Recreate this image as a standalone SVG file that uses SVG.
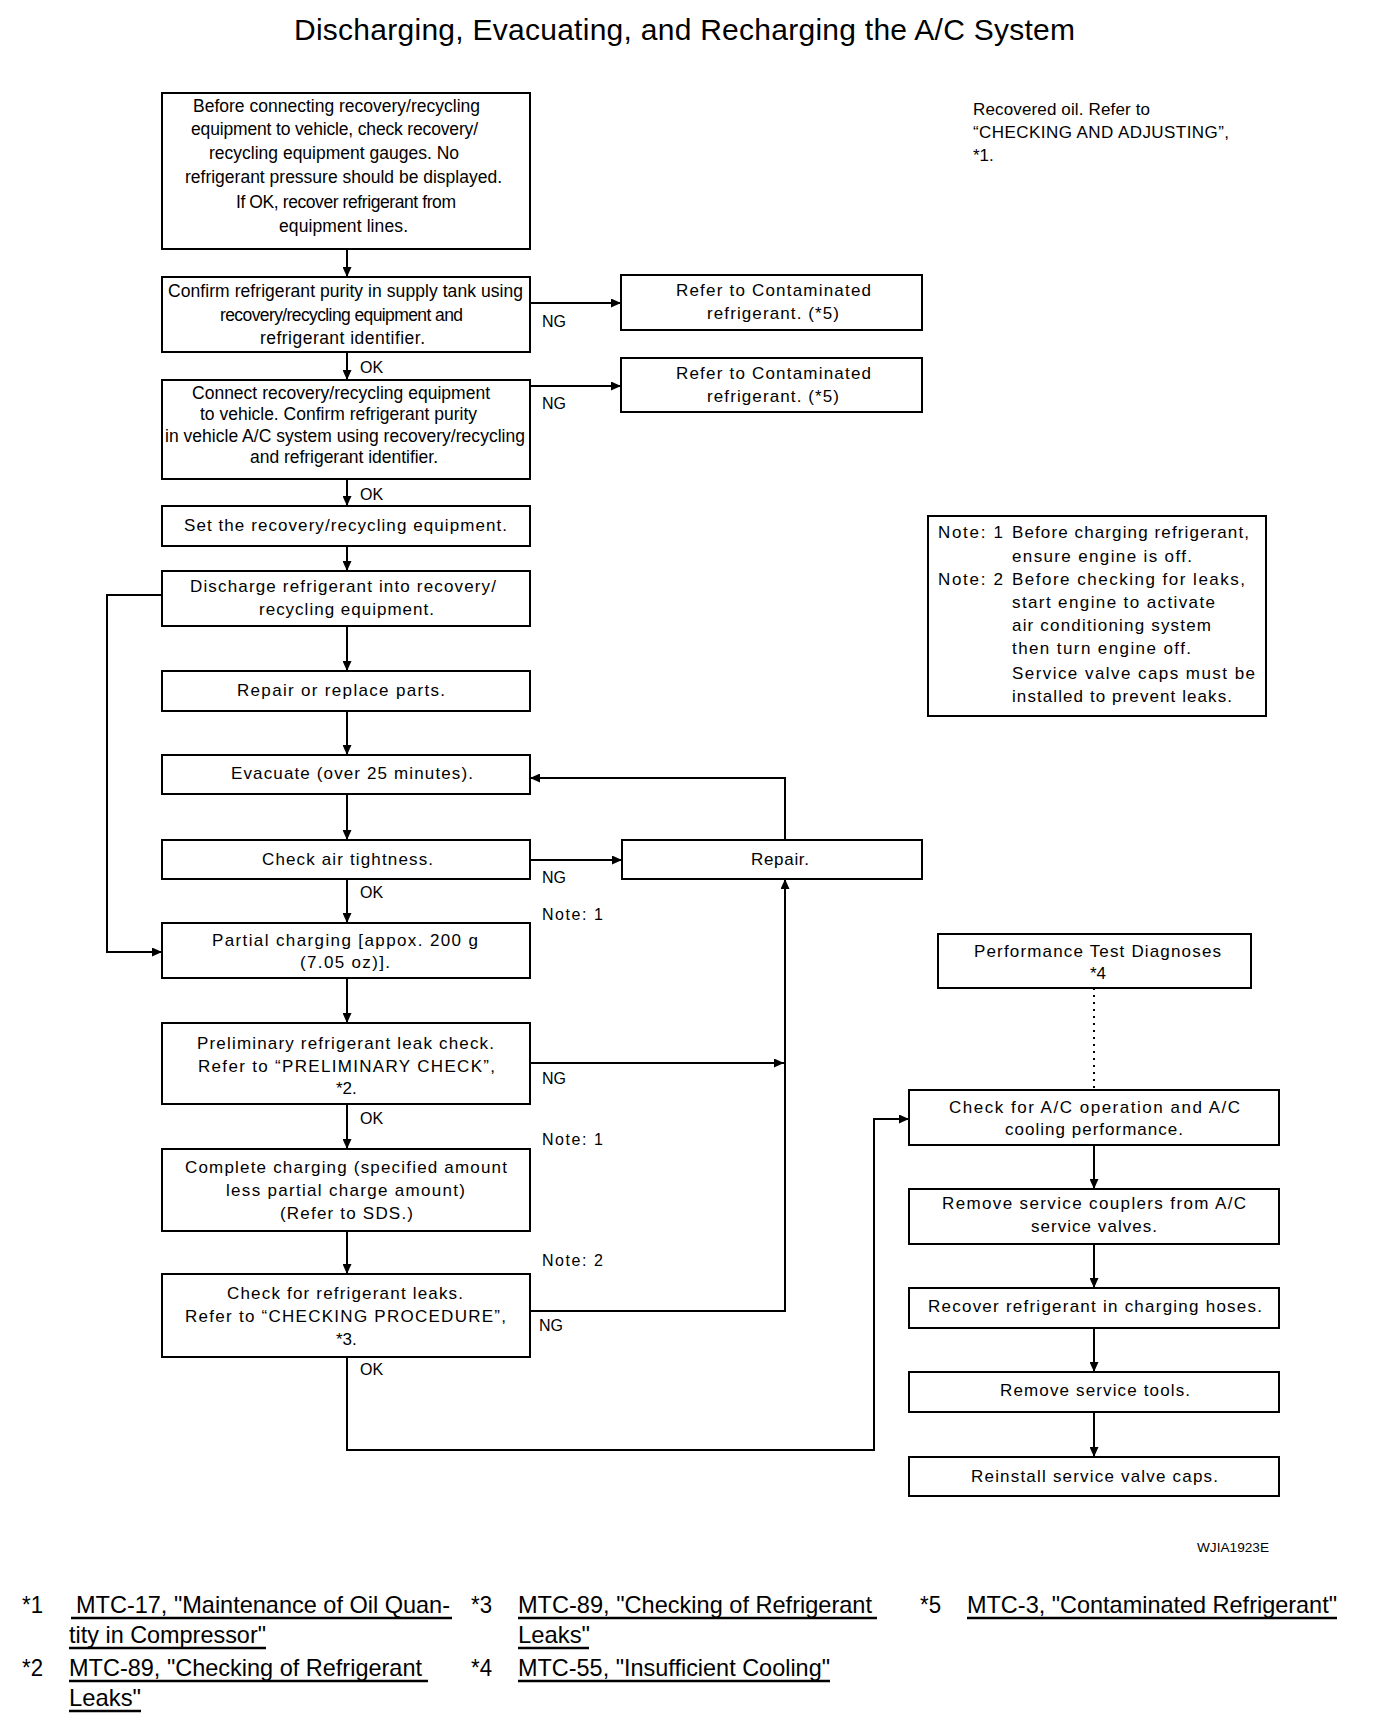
<svg xmlns="http://www.w3.org/2000/svg" width="1376" height="1726" viewBox="0 0 1376 1726">
<style>
.bx{fill:#fff;stroke:#000;stroke-width:2}
text{font-family:"Liberation Sans",Arial,Helvetica,sans-serif;fill:#000}
.d{font-size:17.5px}
.s{font-size:17px}
.l{font-size:16px}
.f{font-size:24px}
.c{fill:none;stroke:#000;stroke-width:2}
.u{stroke:#000;stroke-width:2.5}
</style>
<defs>
<marker id="ah" viewBox="0 0 10 9" refX="10" refY="4.5" markerWidth="10" markerHeight="9" markerUnits="userSpaceOnUse" orient="auto"><path d="M0,0 L10,4.5 L0,9 z" fill="#000"/></marker>
</defs>
<rect width="1376" height="1726" fill="#fff"/>
<text x="294" y="40" font-size="30" textLength="781" lengthAdjust="spacing">Discharging, Evacuating, and Recharging the A/C System</text>

<g id="connectors" class="c" marker-end="url(#ah)">
<path d="M347,249 V277"/>
<path d="M347,352 V380"/>
<path d="M530,303 H621"/>
<path d="M530,386 H621"/>
<path d="M347,479 V506"/>
<path d="M347,546 V571"/>
<path d="M347,626 V671"/>
<path d="M347,711 V755"/>
<path d="M347,794 V840"/>
<path d="M530,860 H622"/>
<path d="M785,840 V778 H530"/>
<path d="M347,879 V923"/>
<path d="M162,595 H107 V952 H162"/>
<path d="M347,978 V1023"/>
<path d="M530,1063 H784"/>
<path d="M347,1104 V1149"/>
<path d="M347,1231 V1274"/>
<path d="M530,1311 H785 V879"/>
<path d="M347,1357 V1450 H874 V1119 H909"/>
<path d="M1094,988 V1090" marker-end="none" stroke-dasharray="2,5"/>
<path d="M1094,1145 V1189"/>
<path d="M1094,1244 V1288"/>
<path d="M1094,1328 V1372"/>
<path d="M1094,1412 V1457"/>
</g>

<g id="labels" class="l">
<text x="360" y="373">OK</text>
<text x="360" y="500">OK</text>
<text x="360" y="898">OK</text>
<text x="360" y="1124">OK</text>
<text x="360" y="1375">OK</text>
<text x="542" y="327">NG</text>
<text x="542" y="409">NG</text>
<text x="542" y="883">NG</text>
<text x="542" y="1084">NG</text>
<text x="539" y="1331">NG</text>
<text x="542" y="920" textLength="61" lengthAdjust="spacing">Note: 1</text>
<text x="542" y="1145" textLength="61" lengthAdjust="spacing">Note: 1</text>
<text x="542" y="1266" textLength="61" lengthAdjust="spacing">Note: 2</text>
</g>

<g id="n1" class="d">
<rect class="bx" x="162" y="93" width="368" height="156"/>
<text x="193" y="112" textLength="287" lengthAdjust="spacing">Before connecting recovery/recycling</text>
<text x="191" y="135" textLength="287" lengthAdjust="spacing">equipment to vehicle, check recovery/</text>
<text x="209" y="159" textLength="250" lengthAdjust="spacing">recycling equipment gauges. No</text>
<text x="185" y="183" textLength="317" lengthAdjust="spacing">refrigerant pressure should be displayed.</text>
<text x="236" y="208" textLength="220" lengthAdjust="spacing">If OK, recover refrigerant from</text>
<text x="279" y="232" textLength="129" lengthAdjust="spacing">equipment lines.</text>
</g>
<g id="n2" class="d">
<rect class="bx" x="162" y="277" width="368" height="75"/>
<text x="168" y="297" textLength="355" lengthAdjust="spacing">Confirm refrigerant purity in supply tank using</text>
<text x="220" y="321" textLength="243" lengthAdjust="spacing">recovery/recycling equipment and</text>
<text x="260" y="344" textLength="165" lengthAdjust="spacing">refrigerant identifier.</text>
</g>
<g id="n3" class="d">
<rect class="bx" x="162" y="380" width="368" height="99"/>
<text x="192" y="399" textLength="298" lengthAdjust="spacing">Connect recovery/recycling equipment</text>
<text x="200" y="420" textLength="277" lengthAdjust="spacing">to vehicle. Confirm refrigerant purity</text>
<text x="165" y="442" textLength="360" lengthAdjust="spacing">in vehicle A/C system using recovery/recycling</text>
<text x="250" y="463" textLength="188" lengthAdjust="spacing">and refrigerant identifier.</text>
</g>
<g id="n4" class="s">
<rect class="bx" x="162" y="506" width="368" height="40"/>
<text x="184" y="531" textLength="323" lengthAdjust="spacing">Set the recovery/recycling equipment.</text>
</g>
<g id="n5" class="s">
<rect class="bx" x="162" y="571" width="368" height="55"/>
<text x="190" y="592" textLength="306" lengthAdjust="spacing">Discharge refrigerant into recovery/</text>
<text x="259" y="615" textLength="175" lengthAdjust="spacing">recycling equipment.</text>
</g>
<g id="n6" class="s">
<rect class="bx" x="162" y="671" width="368" height="40"/>
<text x="237" y="696" textLength="208" lengthAdjust="spacing">Repair or replace parts.</text>
</g>
<g id="n7" class="s">
<rect class="bx" x="162" y="755" width="368" height="39"/>
<text x="231" y="779" textLength="242" lengthAdjust="spacing">Evacuate (over 25 minutes).</text>
</g>
<g id="n8" class="s">
<rect class="bx" x="162" y="840" width="368" height="39"/>
<text x="262" y="865" textLength="171" lengthAdjust="spacing">Check air tightness.</text>
</g>
<g id="n9" class="s">
<rect class="bx" x="162" y="923" width="368" height="55"/>
<text x="212" y="946" textLength="266" lengthAdjust="spacing">Partial charging [appox. 200 g</text>
<text x="300" y="968" textLength="90" lengthAdjust="spacing">(7.05 oz)].</text>
</g>
<g id="n10" class="s">
<rect class="bx" x="162" y="1023" width="368" height="81"/>
<text x="197" y="1049" textLength="297" lengthAdjust="spacing">Preliminary refrigerant leak check.</text>
<text x="198" y="1072" textLength="297" lengthAdjust="spacing">Refer to “PRELIMINARY CHECK”,</text>
<text x="336" y="1094">*2.</text>
</g>
<g id="n11" class="s">
<rect class="bx" x="162" y="1149" width="368" height="82"/>
<text x="185" y="1173" textLength="322" lengthAdjust="spacing">Complete charging (specified amount</text>
<text x="226" y="1196" textLength="239" lengthAdjust="spacing">less partial charge amount)</text>
<text x="280" y="1219" textLength="133" lengthAdjust="spacing">(Refer to SDS.)</text>
</g>
<g id="n12" class="s">
<rect class="bx" x="162" y="1274" width="368" height="83"/>
<text x="227" y="1299" textLength="236" lengthAdjust="spacing">Check for refrigerant leaks.</text>
<text x="185" y="1322" textLength="321" lengthAdjust="spacing">Refer to “CHECKING PROCEDURE”,</text>
<text x="336" y="1345">*3.</text>
</g>
<g id="refer1" class="s">
<rect class="bx" x="621" y="275" width="301" height="55"/>
<text x="676" y="296" textLength="195" lengthAdjust="spacing">Refer to Contaminated</text>
<text x="707" y="319" textLength="132" lengthAdjust="spacing">refrigerant. (*5)</text>
</g>
<g id="refer2" class="s">
<rect class="bx" x="621" y="358" width="301" height="54"/>
<text x="676" y="379" textLength="195" lengthAdjust="spacing">Refer to Contaminated</text>
<text x="707" y="402" textLength="132" lengthAdjust="spacing">refrigerant. (*5)</text>
</g>
<g id="repair" class="s">
<rect class="bx" x="622" y="840" width="300" height="39"/>
<text x="751" y="865" textLength="58" lengthAdjust="spacing">Repair.</text>
</g>
<g id="perf" class="s">
<rect class="bx" x="938" y="934" width="313" height="54"/>
<text x="974" y="957" textLength="247" lengthAdjust="spacing">Performance Test Diagnoses</text>
<text x="1090" y="979">*4</text>
</g>
<g id="checkac" class="s">
<rect class="bx" x="909" y="1090" width="370" height="55"/>
<text x="949" y="1113" textLength="291" lengthAdjust="spacing">Check for A/C operation and A/C</text>
<text x="1005" y="1135" textLength="178" lengthAdjust="spacing">cooling performance.</text>
</g>
<g id="couplers" class="s">
<rect class="bx" x="909" y="1189" width="370" height="55"/>
<text x="942" y="1209" textLength="304" lengthAdjust="spacing">Remove service couplers from A/C</text>
<text x="1031" y="1232" textLength="126" lengthAdjust="spacing">service valves.</text>
</g>
<g id="recover" class="s">
<rect class="bx" x="909" y="1288" width="370" height="40"/>
<text x="928" y="1312" textLength="334" lengthAdjust="spacing">Recover refrigerant in charging hoses.</text>
</g>
<g id="tools" class="s">
<rect class="bx" x="909" y="1372" width="370" height="40"/>
<text x="1000" y="1396" textLength="190" lengthAdjust="spacing">Remove service tools.</text>
</g>
<g id="reinstall" class="s">
<rect class="bx" x="909" y="1457" width="370" height="39"/>
<text x="971" y="1482" textLength="247" lengthAdjust="spacing">Reinstall service valve caps.</text>
</g>
<g id="note" class="s">
<rect class="bx" x="928" y="516" width="338" height="200"/>
<text y="538"><tspan x="938" textLength="65" lengthAdjust="spacing">Note: 1</tspan><tspan x="1012" textLength="237" lengthAdjust="spacing">Before charging refrigerant,</tspan></text>
<text x="1012" y="562" textLength="180" lengthAdjust="spacing">ensure engine is off.</text>
<text y="585"><tspan x="938" textLength="65" lengthAdjust="spacing">Note: 2</tspan><tspan x="1012" textLength="233" lengthAdjust="spacing">Before checking for leaks,</tspan></text>
<text x="1012" y="608" textLength="203" lengthAdjust="spacing">start engine to activate</text>
<text x="1012" y="631" textLength="199" lengthAdjust="spacing">air conditioning system</text>
<text x="1012" y="654" textLength="179" lengthAdjust="spacing">then turn engine off.</text>
<text x="1012" y="679" textLength="243" lengthAdjust="spacing">Service valve caps must be</text>
<text x="1012" y="702" textLength="220" lengthAdjust="spacing">installed to prevent leaks.</text>
</g>
<g id="oilnote" class="s">
<text x="973" y="115" textLength="177" lengthAdjust="spacing">Recovered oil. Refer to</text>
<text x="973" y="138" textLength="256" lengthAdjust="spacing">“CHECKING AND ADJUSTING”,</text>
<text x="973" y="161">*1.</text>
</g>
<text x="1197" y="1552" font-size="13.5" textLength="72" lengthAdjust="spacingAndGlyphs">WJIA1923E</text>

<g id="footnotes" class="f">
<text x="22" y="1613" textLength="21" lengthAdjust="spacingAndGlyphs">*1</text>
<text x="76" y="1613" textLength="374" lengthAdjust="spacingAndGlyphs">MTC-17, "Maintenance of Oil Quan-</text>
<text x="69" y="1643" textLength="197" lengthAdjust="spacingAndGlyphs">tity in Compressor"</text>
<text x="22" y="1676" textLength="21" lengthAdjust="spacingAndGlyphs">*2</text>
<text x="69" y="1676" textLength="353" lengthAdjust="spacingAndGlyphs">MTC-89, "Checking of Refrigerant</text>
<text x="69" y="1706" textLength="72" lengthAdjust="spacingAndGlyphs">Leaks"</text>
<text x="471" y="1613" textLength="21" lengthAdjust="spacingAndGlyphs">*3</text>
<text x="518" y="1613" textLength="354" lengthAdjust="spacingAndGlyphs">MTC-89, "Checking of Refrigerant</text>
<text x="518" y="1643" textLength="72" lengthAdjust="spacingAndGlyphs">Leaks"</text>
<text x="471" y="1676" textLength="21" lengthAdjust="spacingAndGlyphs">*4</text>
<text x="518" y="1676" textLength="312" lengthAdjust="spacingAndGlyphs">MTC-55, "Insufficient Cooling"</text>
<text x="920" y="1613" textLength="21" lengthAdjust="spacingAndGlyphs">*5</text>
<text x="967" y="1613" textLength="370" lengthAdjust="spacingAndGlyphs">MTC-3, "Contaminated Refrigerant"</text>
<g class="u">
<line x1="71" y1="1618" x2="452" y2="1618"/>
<line x1="69" y1="1648" x2="266" y2="1648"/>
<line x1="69" y1="1681" x2="428" y2="1681"/>
<line x1="69" y1="1711" x2="141" y2="1711"/>
<line x1="518" y1="1618" x2="877" y2="1618"/>
<line x1="518" y1="1648" x2="589" y2="1648"/>
<line x1="518" y1="1681" x2="830" y2="1681"/>
<line x1="967" y1="1618" x2="1337" y2="1618"/>
</g>
</g>
</svg>
